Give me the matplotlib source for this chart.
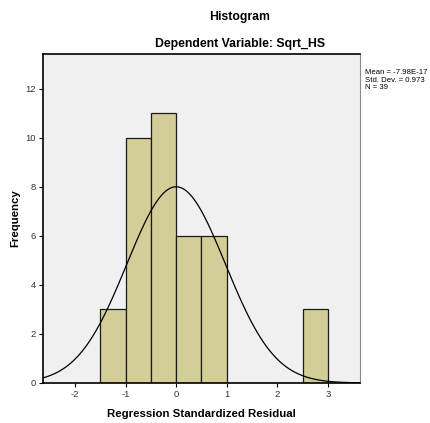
import numpy as np
import matplotlib.pyplot as plt

# histogram data
bin_edges = [-1.5, -1.0, -0.5, 0.0, 0.5, 1.0, 1.5, 2.0, 2.5, 3.0]
counts = [3, 10, 11, 6, 6, 0, 0, 0, 3]

# summary stats shown in the chart
mean = -7.98e-17
std_dev = 0.973
n = 39

x_ticks = [-2, -1, 0, 1, 2, 3]
y_ticks = [0, 2, 4, 6, 8, 10, 12]

plt.rcParams['font.family'] = ['Liberation Sans', 'DejaVu Sans']
plt.rcParams['axes.unicode_minus'] = False

fig = plt.figure(figsize=(4.31, 4.23), dpi=100)
ax = fig.add_axes([0.0998, 0.0946, 0.7352, 0.7774])
ax.set_facecolor('#f0f0f0')

lefts = np.array(bin_edges[:-1])
widths = np.diff(bin_edges)
ax.bar(lefts, counts, width=widths, align='edge', color='#d3ce97',
       edgecolor='#1a1a1a', linewidth=0.9, zorder=2)

# normal curve scaled to the histogram
bw = widths[0]
xs = np.linspace(-2.63, 3.63, 400)
ys = n * bw / (std_dev * np.sqrt(2 * np.pi)) * np.exp(-0.5 * ((xs - mean) / std_dev) ** 2)
ax.plot(xs, ys, color='black', linewidth=0.9, zorder=3)

ax.set_xlim(-2.63, 3.63)
ax.set_ylim(0, 13.4)
ax.set_xticks(x_ticks)
ax.set_yticks(y_ticks)
ax.tick_params(labelsize=6.8, labelcolor='#333333', length=3, width=0.8,
               direction='out', pad=2)

for side in ['left', 'bottom', 'top']:
    ax.spines[side].set_linewidth(1.2)
ax.spines['right'].set_color('#888888')

fig.text(201 / 431, 1 - 414 / 423, 'Regression Standardized Residual',
         ha='center', va='center', fontsize=8.2, fontweight='bold')
fig.text(15 / 431, 1 - 218 / 423, 'Frequency', ha='center', va='center',
         rotation=90, fontsize=8.2, fontweight='bold')

fig.text(240 / 431, 1 - 17 / 423, 'Histogram', ha='center', va='center',
         fontsize=8.8, fontweight='bold')
fig.text(240 / 431, 1 - 44 / 423, 'Dependent Variable: Sqrt_HS', ha='center', va='center',
         fontsize=8.8, fontweight='bold')

fig.text(365 / 431, 1 - 80 / 423,
         'Mean = -7.98E-17\nStd. Dev. = 0.973\nN = 39',
         ha='left', va='center', fontsize=5.6, linespacing=1.1)

fig.savefig('out.png', dpi=100)
